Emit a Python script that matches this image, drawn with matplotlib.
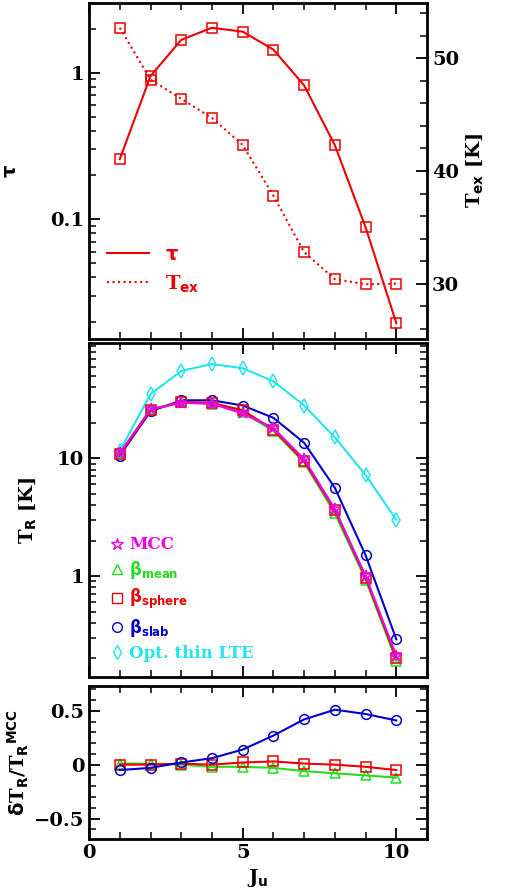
import matplotlib
matplotlib.use("Agg")
import matplotlib.pyplot as plt
from matplotlib.lines import Line2D
from matplotlib.ticker import MultipleLocator, LogLocator, NullFormatter, FixedLocator, FixedFormatter

plt.rcParams['font.family'] = ['DejaVu Serif']
plt.rcParams['font.weight'] = 'bold'
plt.rcParams['axes.labelweight'] = 'bold'
plt.rcParams['mathtext.default'] = 'bf'

J = [1, 2, 3, 4, 5, 6, 7, 8, 9, 10]
tau = [0.257, 0.95, 1.68, 2.03, 1.91, 1.44, 0.82, 0.32, 0.088, 0.0195]
tex = [52.7, 48.1, 46.4, 44.7, 42.3, 37.8, 32.8, 30.4, 29.95, 30.0]

tr_mcc = [11.0, 26.0, 29.5, 29.0, 24.0, 18.0, 9.8, 3.7, 1.0, 0.21]
tr_mean = [11.0, 26.0, 30.0, 29.0, 24.5, 17.0, 9.2, 3.4, 0.93, 0.19]
tr_sphere = [10.8, 25.5, 30.0, 29.5, 25.5, 17.5, 9.4, 3.6, 0.97, 0.2]
tr_slab = [10.5, 25.0, 31.0, 31.0, 28.0, 22.0, 13.5, 5.6, 1.5, 0.29]
tr_lte = [11.5, 35.0, 55.0, 63.0, 58.0, 45.0, 28.0, 15.0, 7.2, 3.0]

d_mean = [0.01, 0.01, 0.0, -0.02, -0.02, -0.03, -0.06, -0.08, -0.10, -0.12]
d_sphere = [0.0, 0.0, 0.01, 0.0, 0.02, 0.03, 0.01, 0.0, -0.02, -0.05]
d_slab = [-0.05, -0.03, 0.02, 0.06, 0.14, 0.27, 0.42, 0.51, 0.47, 0.41]

RED, GREEN, BLUE, CYAN, MAG = "#ee0000", "#22dd22", "#0000cc", "#22e5ee", "#ee00ee"
FS = 14
mk = dict(mfc="none", ms=7, mew=1.1)

fig = plt.figure(figsize=(5.06, 8.96), dpi=100)
ax1 = fig.add_axes([0.176, 0.6217, 0.668, 0.375])
ax2 = fig.add_axes([0.176, 0.2444, 0.668, 0.3728])
ax3 = fig.add_axes([0.176, 0.0636, 0.668, 0.1708])


def style(ax, right=True):
    ax.set_xlim(0, 11)
    ax.xaxis.set_major_locator(MultipleLocator(5))
    ax.xaxis.set_minor_locator(MultipleLocator(1))
    ax.tick_params(which="both", direction="in", top=True, right=right, labelsize=FS)
    ax.tick_params(which="major", length=8, width=1.3)
    ax.tick_params(which="minor", length=5, width=1.1)
    for s in ax.spines.values():
        s.set_linewidth(2)


# top panel: tau and Tex
ax1.set_yscale("log")
ax1.plot(J, tau, "-", color=RED, lw=1.5, marker="s", **mk)
ax1.set_ylim(0.0152, 3.0)
ax1.yaxis.set_major_locator(FixedLocator([0.1, 1]))
ax1.yaxis.set_major_formatter(FixedFormatter(["0.1", "1"]))
ax1.yaxis.set_minor_locator(LogLocator(subs=range(2, 10)))
ax1.yaxis.set_minor_formatter(NullFormatter())
style(ax1, right=False)
ax1.tick_params(labelbottom=False)
ax1.set_ylabel(r"$\tau$", fontsize=FS, labelpad=22)
ax1r = ax1.twinx()
ax1r.plot(J, tex, ":", color=RED, lw=1.5, marker="s", **mk)
ax1r.set_ylim(25.1, 54.9)
ax1r.yaxis.set_major_locator(MultipleLocator(10))
ax1r.yaxis.set_minor_locator(MultipleLocator(2))
ax1r.tick_params(which="both", direction="in", labelsize=FS)
ax1r.tick_params(which="major", length=8, width=1.3)
ax1r.tick_params(which="minor", length=5, width=1.1)
ax1r.set_ylabel(r"T$_{\mathbf{ex}}$ [K]", fontsize=FS)
h = [Line2D([], [], color=RED, ls="-", lw=1.5), Line2D([], [], color=RED, ls=":", lw=1.5)]
ax1.legend(h, [r"$\tau$", r"T$_{\mathbf{ex}}$"], loc="lower left", bbox_to_anchor=(0.0, 0.08),
           frameon=False, fontsize=FS, labelcolor=RED, handlelength=2.2)

# middle panel: T_R
ax2.set_yscale("log")
ax2.plot(J, tr_lte, "-", color=CYAN, lw=1.5, marker="d", **mk)
ax2.plot(J, tr_slab, "-", color=BLUE, lw=1.5, marker="o", **mk)
ax2.plot(J, tr_mean, "-", color=GREEN, lw=1.5, marker="^", **mk)
ax2.plot(J, tr_sphere, "-", color=RED, lw=1.5, marker="s", **mk)
ax2.plot(J, tr_mcc, "-", color=MAG, lw=1.5, marker="*", mfc="none", ms=9, mew=1.1)
ax2.set_ylim(0.139, 95)
ax2.yaxis.set_major_locator(FixedLocator([1, 10]))
ax2.yaxis.set_major_formatter(FixedFormatter(["1", "10"]))
ax2.yaxis.set_minor_locator(LogLocator(subs=range(2, 10)))
ax2.yaxis.set_minor_formatter(NullFormatter())
style(ax2)
ax2.tick_params(labelbottom=False)
ax2.set_ylabel(r"T$_{\mathbf{R}}$ [K]", fontsize=FS, labelpad=14)
hs = [Line2D([], [], ls="none", color=MAG, marker="*", mfc="none", ms=9),
      Line2D([], [], ls="none", color=GREEN, marker="^", mfc="none", ms=7),
      Line2D([], [], ls="none", color=RED, marker="s", mfc="none", ms=7),
      Line2D([], [], ls="none", color=BLUE, marker="o", mfc="none", ms=7),
      Line2D([], [], ls="none", color=CYAN, marker="d", mfc="none", ms=7)]
labels = ["MCC", r"$\beta_{\mathbf{mean}}$", r"$\beta_{\mathbf{sphere}}$", r"$\beta_{\mathbf{slab}}$", "Opt. thin LTE"]
ax2.legend(hs, labels, loc="lower left", bbox_to_anchor=(0.02, 0.0), frameon=False,
           fontsize=12, handlelength=0.8, handletextpad=0.3, labelspacing=0.35,
           labelcolor=[MAG, GREEN, RED, BLUE, CYAN])

# bottom panel: relative difference
ax3.plot(J, d_mean, "-", color=GREEN, lw=1.5, marker="^", **mk)
ax3.plot(J, d_sphere, "-", color=RED, lw=1.5, marker="s", **mk)
ax3.plot(J, d_slab, "-", color=BLUE, lw=1.5, marker="o", **mk)
ax3.set_ylim(-0.69, 0.73)
ax3.yaxis.set_minor_locator(MultipleLocator(0.1))
style(ax3)
ax3.set_yticks([-0.5, 0, 0.5])
ax3.set_yticklabels(["\u22120.5", "0", "0.5"])
ax3.set_xticks([0, 5, 10])
ax3.set_xticklabels(["0", "5", "10"])
ax3.set_xlabel(r"J$_{\mathbf{u}}$", fontsize=FS)
ax3.set_ylabel(r"$\delta$T$_{\mathbf{R}}$/T$_{\mathbf{R}}$$^{\mathbf{MCC}}$", fontsize=FS, labelpad=2)

fig.savefig("out.png", dpi=100)
